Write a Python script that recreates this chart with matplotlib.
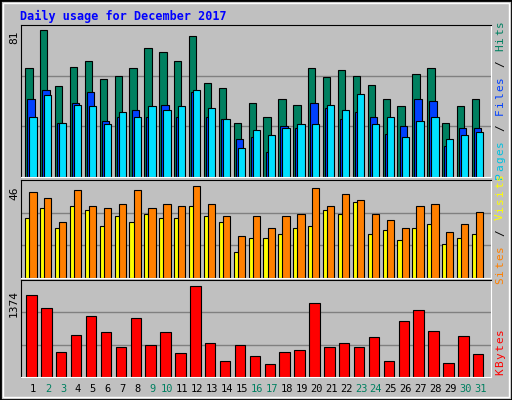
import matplotlib
matplotlib.use('Agg')
import matplotlib.pyplot as plt
from matplotlib.patches import Rectangle

days = list(range(1, 32))
weekend_days = [2, 3, 9, 10, 16, 17, 23, 24, 30, 31]

hits = [60, 81, 50, 61, 64, 54, 56, 60, 71, 69, 64, 78, 52, 49, 30, 41,
        33, 43, 40, 60, 55, 59, 56, 51, 43, 39, 57, 60, 30, 39, 43]
files = [43, 48, 30, 41, 47, 31, 33, 37, 33, 40, 33, 47, 33, 32, 21, 22,
         14, 28, 27, 41, 38, 32, 36, 33, 24, 28, 43, 42, 17, 27, 27]
pages = [33, 45, 30, 40, 39, 29, 36, 33, 39, 37, 39, 48, 38, 32, 16, 26,
         23, 27, 29, 29, 40, 37, 46, 29, 33, 22, 31, 33, 21, 23, 25]
visits = [30, 35, 25, 36, 34, 26, 31, 28, 32, 30, 30, 36, 31, 28, 13, 20,
          20, 22, 25, 26, 34, 32, 38, 22, 24, 19, 25, 27, 17, 20, 22]
sites = [43, 40, 28, 44, 36, 35, 37, 44, 35, 37, 36, 46, 37, 31, 21, 31,
         25, 31, 32, 45, 36, 42, 39, 32, 29, 25, 36, 37, 23, 27, 33]
kbytes = [1239, 1043, 381, 637, 923, 682, 456, 893, 486, 682, 366, 1374,
          517, 246, 486, 321, 201, 381, 411, 1118, 456, 517, 456, 607, 246,
          848, 1013, 697, 216, 622, 351]

W, H = 512, 400
fig = plt.figure(figsize=(W / 100, H / 100), dpi=100)
fig.patch.set_facecolor('#C0C0C0')
mono = 'DejaVu Sans Mono'

# 3D style frame
fig.add_artist(Rectangle((0, 0), 1, 1, transform=fig.transFigure, fill=False,
                         edgecolor='black', linewidth=2))
fig.add_artist(Rectangle((3 / W, 3 / H), 1 - 6 / W, 1 - 6 / H, transform=fig.transFigure,
                         fill=False, edgecolor='white', linewidth=1))

fig.text(20 / W, 1 - 16 / H, 'Daily usage for December 2017', color='#0000FF',
         fontsize=8.5, fontweight='bold', family=mono, va='center')

x0, x1 = 20.7, 490.7
xl = (0.154, 31.72)


def panel(top, bottom):
    ax = fig.add_axes([x0 / W, 1 - bottom / H, (x1 - x0) / W, (bottom - top) / H])
    ax.set_facecolor('#C0C0C0')
    ax.set_xlim(*xl)
    for y in (1 / 3, 2 / 3):
        ax.plot(xl, [y, y], color='#808080', lw=1, transform=ax.get_xaxis_transform(),
                zorder=0)
    ax.set_xticks([])
    ax.set_yticks([])
    for s in ax.spines.values():
        s.set_color('black')
    ax.spines['bottom'].set_color('white')
    ax.spines['right'].set_color('white')
    return ax


ekw = dict(edgecolor='black', linewidth=0.8, align='edge')
d = [x for x in days]

ax1 = panel(25, 177)
ax1.bar([x - 0.54 for x in d], hits, 0.49, color='#008060', **ekw)
ax1.bar([x - 0.40 for x in d], files, 0.49, color='#0040FF', **ekw)
ax1.bar([x - 0.27 for x in d], pages, 0.49, color='#00E0FF', **ekw)
ax1.set_ylim(0, max(hits) * 1.036)

ax2 = panel(180, 278)
ax2.bar([x - 0.54 for x in d], visits, 0.49, color='#FFFF00', **ekw)
ax2.bar([x - 0.27 for x in d], sites, 0.49, color='#FF8000', **ekw)
ax2.set_ylim(0, max(sites) * 1.065)

ax3 = panel(280, 377)
ax3.bar([x - 0.47 for x in d], kbytes, 0.70, color='#FF0000', **ekw)
ax3.set_ylim(0, max(kbytes) * 1.062)

# max labels on the left
for ytop, txt in ((31, '81'), (186, '46'), (290, '1374')):
    fig.text(14 / W, 1 - ytop / H, txt, rotation=90, fontsize=8, family=mono,
             ha='center', va='top')

# right side legends
def side_label(ymid, parts):
    total = sum(len(p) for p, _ in parts)
    step = 8.0
    y = ymid + total * step / 2
    for p, c in parts:
        for ch in p:
            fig.text(500 / W, 1 - (y - step / 2) / H, ch, rotation=90, fontsize=8,
                     family=mono, color=c, ha='center', va='center')
            y -= step

side_label(100, [('Pages', '#00C0E0'), (' / ', '#000000'), ('Files', '#0040FF'),
                 (' / ', '#000000'), ('Hits', '#008060')])
side_label(229, [('Sites', '#FF8000'), (' / ', '#000000'), ('Visits', '#FFFF00')])
side_label(352, [('KBytes', '#FF0000')])

# day labels
for i in days:
    px = 33.3 + (i - 1) * 14.9
    col = '#008060' if i in weekend_days else 'black'
    fig.text(px / W, 1 - 389 / H, str(i), color=col, fontsize=7.5, family=mono,
             ha='center', va='center')

fig.savefig('out.png', dpi=100, facecolor=fig.get_facecolor())
